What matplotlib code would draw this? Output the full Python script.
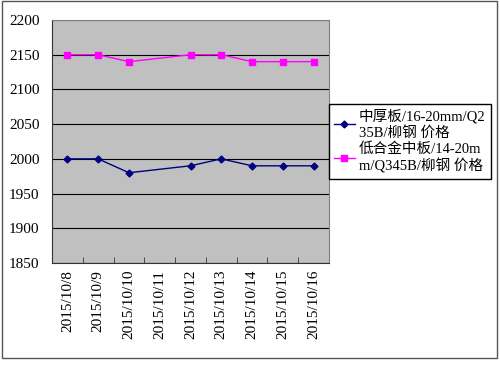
import matplotlib
matplotlib.use('Agg')
import matplotlib.pyplot as plt
from matplotlib.patches import Rectangle

dates = ['2015/10/8', '2015/10/9', '2015/10/10', '2015/10/11', '2015/10/12',
         '2015/10/13', '2015/10/14', '2015/10/15', '2015/10/16']
# None = no quote that day, Excel draws the line straight across it
plate = [2000, 2000, 1980, None, 1990, 2000, 1990, 1990, 1990]
alloy = [2150, 2150, 2140, None, 2150, 2150, 2140, 2140, 2140]
names = ['中厚板/16-20mm/Q2\n35B/柳钢 价格',
         '低合金中板/14-20m\nm/Q345B/柳钢 价格']

plt.rcParams['font.family'] = ['Liberation Serif', 'Noto Sans CJK SC']

fig = plt.figure(figsize=(5, 3.66), dpi=100)
fig.patches.append(Rectangle((2 / 500, 8 / 366), 495 / 500, 357 / 366,
                             transform=fig.transFigure, fill=False,
                             edgecolor='#555555', lw=1))

ax = fig.add_axes([52 / 500, 103 / 366, 277 / 500, 243 / 366])
ax.set_facecolor('#C0C0C0')

def pts(vals):
    xs = [i for i, v in enumerate(vals) if v is not None]
    return xs, [vals[i] for i in xs]

x1, y1 = pts(plate)
x2, y2 = pts(alloy)
ax.plot(x1, y1, color='#000080', lw=1, marker='D', ms=3.5, label=names[0])
ax.plot(x2, y2, color='#FF00FF', lw=1, marker='s', ms=5, label=names[1])

ax.set_xlim(-0.5, len(dates) - 0.5)
ax.set_ylim(1850, 2200)
ax.set_yticks(range(1850, 2201, 50))
ax.yaxis.grid(True, color='black', lw=0.8)
ax.set_axisbelow(True)
ax.set_xticks(range(len(dates)))
ax.set_xticklabels(dates, rotation=90, fontsize=11)
ax.set_xticks([i + 0.5 for i in range(len(dates) - 1)], minor=True)
ax.tick_params(axis='x', which='major', length=0, pad=5)
ax.tick_params(axis='x', which='minor', direction='in', length=4, color='#333333')
ax.tick_params(axis='y', length=0, pad=9, labelsize=11)
for s in ax.spines.values():
    s.set_color('#808080')
ax.spines['left'].set_color('#333333')
ax.spines['bottom'].set_color('#333333')

ax.legend(loc='upper left', bbox_to_anchor=(329 / 500, 1 - 104 / 366),
          bbox_transform=fig.transFigure, borderaxespad=0, fancybox=False,
          edgecolor='black', fontsize=10.5, handlelength=1.4,
          handletextpad=0.3, borderpad=0.35, labelspacing=0.2, framealpha=1)

fig.savefig('out.png', dpi=100)
